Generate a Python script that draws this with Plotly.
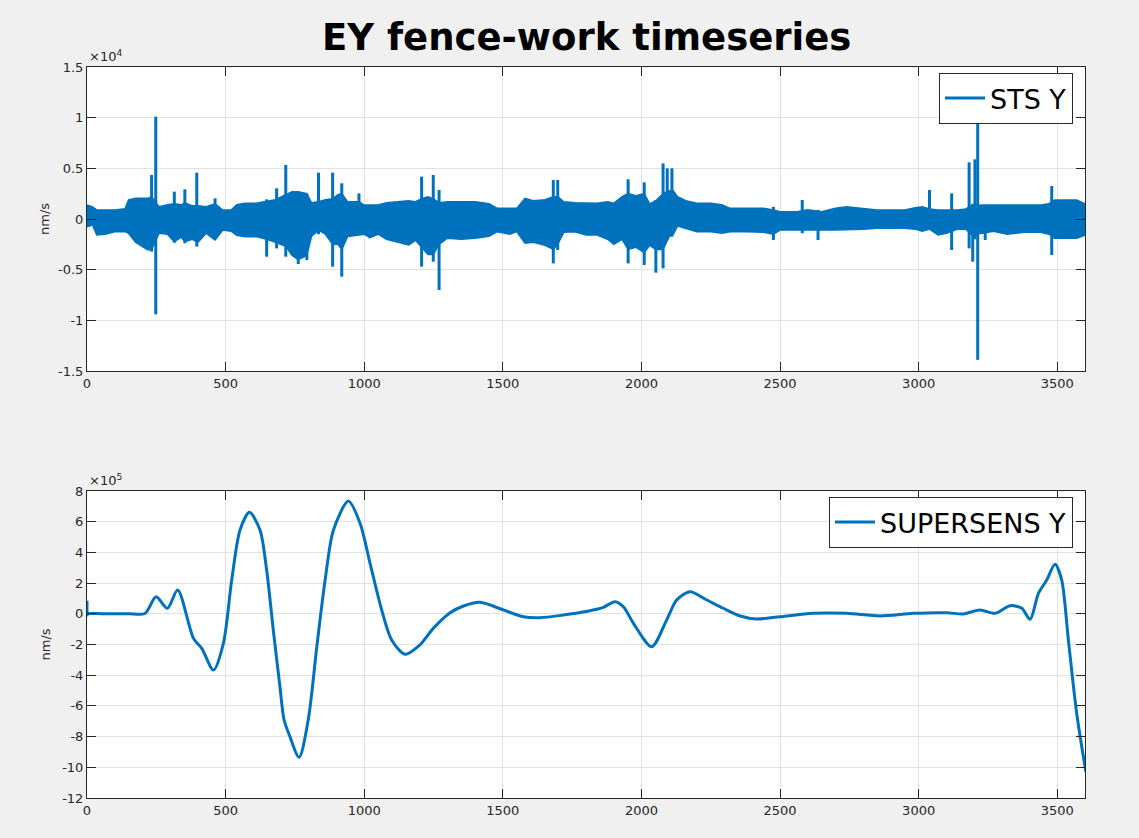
import plotly.graph_objects as go

W, H = 1139, 838

sts_t = [0, 20, 35, 65, 100, 137, 150, 175, 200, 220, 233, 260, 290, 315, 340, 353,
         380, 400, 430, 462, 490, 520, 540, 570, 610, 648, 680, 717, 740, 762, 793,
         810, 835, 860, 886, 905, 919, 940, 981, 1000, 1020, 1050, 1080, 1120, 1160,
         1185, 1207, 1230, 1249, 1270, 1300, 1350, 1400, 1450, 1480, 1526, 1550, 1580,
         1610, 1652, 1682, 1698, 1720, 1760, 1800, 1840, 1878, 1900, 1930, 1952, 1980,
         2010, 2030, 2052, 2078, 2100, 2115, 2130, 2160, 2200, 2250, 2290, 2320, 2380,
         2440, 2476, 2500, 2560, 2600, 2650, 2700, 2740, 2800, 2850, 2900, 2950, 2987,
         3013, 3039, 3070, 3100, 3140, 3170, 3190, 3230, 3270, 3320, 3380, 3440, 3470,
         3490, 3530, 3570, 3600]
sts_hi = [1380, 1200, 900, 900, 900, 1000, 1880, 2040, 2040, 2040, 2200, 1220, 1400, 1500,
          1400, 1600, 1300, 1300, 1220, 1500, 890, 890, 1400, 1550, 1550, 1700, 1900,
          2400, 2700, 2700, 2500, 1600, 1700, 1900, 2000, 2400, 2500, 1710, 1710, 1380,
          1380, 1380, 1600, 1700, 1800, 1700, 2000, 2200, 2000, 1600, 1710, 1710, 1710,
          1500, 1050, 1050, 1050, 2040, 1800, 1900, 2200, 2200, 1700, 1600, 1550, 1550,
          1700, 1550, 2200, 2500, 2300, 2500, 1500, 1800, 2500, 2800, 2800, 2200, 1800,
          1550, 1550, 1400, 1050, 1050, 1050, 900, 720, 720, 900, 720, 1050, 1200, 1050,
          890, 890, 890, 1100, 1200, 1000, 890, 890, 890, 1000, 1300, 1380, 1380, 1380,
          1380, 1380, 1500, 1880, 1880, 1880, 1500]
sts_lo = [-760, -600, -1580, -1500, -1250, -1250, -1400, -2300, -2730, -3060, -3000, -1410,
          -1500, -2240, -1800, -2240, -2000, -2300, -1410, -2070, -1090, -1200, -1600,
          -1740, -1740, -2000, -2300, -2700, -3600, -4000, -3600, -1700, -1100, -1500,
          -2500, -2500, -3000, -1740, -1600, -1500, -1840, -1500, -2000, -2300, -2570,
          -2100, -2800, -3500, -3500, -2500, -1900, -2000, -1900, -1700, -1250, -1500,
          -1250, -2400, -2300, -2600, -3000, -2500, -1300, -1250, -1580, -1580, -2000,
          -2500, -2000, -3000, -2800, -3300, -2600, -3000, -3000, -1740, -1500, -700,
          -900, -1250, -1250, -1400, -1250, -1250, -1300, -1500, -1090, -1090, -1090,
          -1090, -1090, -1090, -1000, -920, -920, -920, -1000, -1200, -1000, -1580,
          -1400, -1000, -1000, -1500, -1400, -1200, -1500, -1300, -1300, -1500, -1910,
          -1910, -1910, -1600]

# STS Y: isolated spikes (time s, top nm/s, bottom nm/s)
spike_t = [233, 248, 315, 353, 396, 462, 648, 684, 717, 762, 793, 835, 886, 919, 981,
           1207, 1249, 1270, 1682, 1698, 1952, 2010, 2052, 2078, 2093, 2110, 2476, 2580,
           2637, 3039, 3119, 3182, 3195, 3203, 3213, 3240, 3480]
spike_hi = [4340, 10100, 2700, 2930, 4570, 2040, 1940, 3030, 5330, 2700, 2500, 4570, 4570,
            3520, 2530, 4180, 4340, 2860, 3850, 3850, 3920, 3620, 1880, 5490, 5000, 5000,
            1200, 1880, 900, 2860, 2530, 5590, 1500, 5890, 10200, 1380, 3260]
spike_lo = [-3220, -9410, -2340, -2400, -2730, -2000, -3720, -2900, -3720, -4440, -4050,
            -1500, -4700, -5690, -1600, -4700, -4210, -7010, -4380, -3060, -4380, -4540,
            -5300, -4870, -2000, -1740, -2070, -1400, -2070, -1000, -3060, -2900, -4210,
            -2000, -13900, -2070, -3550]

# SUPERSENS Y (time s, nm/s)
ss_t = [0, 1, 3, 60, 150, 209, 249, 290, 327, 384, 414, 456, 492, 522, 552, 586, 624, 648,
        672, 696, 711, 732, 765, 798, 829, 859, 889, 943, 985, 1021, 1063, 1099, 1147, 1201,
        1249, 1310, 1358, 1418, 1502, 1574, 1634, 1718, 1800, 1860, 1905, 1935, 1971, 2037,
        2091, 2127, 2175, 2236, 2295, 2356, 2416, 2500, 2620, 2740, 2861, 2981, 3101, 3161,
        3221, 3275, 3330, 3372, 3402, 3432, 3462, 3492, 3516, 3540, 3570, 3603]
ss_y = [85000, -8000, 0, 0, 0, 2000, 111000, 36000, 155000, -160000, -225000, -366000,
        -192000, 220000, 546000, 661000, 546000, 285000, -106000, -475000, -692000, -800000,
        -935000, -692000, -214000, 220000, 546000, 735000, 590000, 329000, 25000, -171000,
        -264000, -203000, -95000, 7000, 51000, 75000, 25000, -19000, -25000, -8000, 15000,
        40000, 79000, 46000, -62000, -214000, -40000, 90000, 144000, 90000, 36000, -14000,
        -34000, -19000, 3000, 3000, -14000, 3000, 7000, -1000, 25000, 3000, 53000, 36000,
        -36000, 133000, 220000, 322000, 220000, -171000, -648000, -1029000]

x_ticks = [0, 500, 1000, 1500, 2000, 2500, 3000, 3500]
sts_ticks = [-15000, -10000, -5000, 0, 5000, 10000, 15000]
sts_labels = ["-1.5", "-1", "-0.5", "0", "0.5", "1", "1.5"]
ss_ticks = [-1200000, -1000000, -800000, -600000, -400000, -200000, 0, 200000, 400000,
            600000, 800000]
ss_labels = ["-12", "-10", "-8", "-6", "-4", "-2", "0", "2", "4", "6", "8"]

blue = "rgb(0,114,189)"
ink = "#262626"
font = "DejaVu Sans"

fig = go.Figure()

# the dense noise band
fig.add_trace(go.Scatter(x=sts_t + sts_t[::-1], y=sts_hi + sts_lo[::-1], fill="toself",
                         fillcolor=blue, line=dict(color=blue, width=1.5), mode="lines",
                         showlegend=False, hoverinfo="skip", xaxis="x", yaxis="y"))

# isolated spikes as vertical strokes
sx, sy = [], []
for t, hi, lo in zip(spike_t, spike_hi, spike_lo):
    sx += [t, t, None]
    sy += [lo, hi, None]
fig.add_trace(go.Scatter(x=sx, y=sy, mode="lines", line=dict(color=blue, width=3),
                         name="STS Y", legend="legend", xaxis="x", yaxis="y"))

fig.add_trace(go.Scatter(x=ss_t, y=ss_y, mode="lines",
                         line=dict(color=blue, width=3, shape="spline", smoothing=0.8),
                         name="SUPERSENS Y", legend="legend2", xaxis="x2", yaxis="y2"))

x0, x1 = 87 / W, 1085 / W
top_dom = [1 - 371 / H, 1 - 67 / H]
bot_dom = [1 - 798 / H, 1 - 491 / H]

axis_common = dict(showline=True, linecolor=ink, linewidth=1, mirror="ticks",
                   ticks="inside", ticklen=9, tickcolor=ink, showgrid=True,
                   gridcolor="#e1e1e1", zeroline=False, automargin=False,
                   tickfont=dict(family=font, size=13, color=ink))

legend_common = dict(xanchor="right", yanchor="top", bgcolor="white", bordercolor=ink,
                     borderwidth=1, font=dict(family=font, size=27, color="black"),
                     itemwidth=40, tracegroupgap=0)

fig.update_layout(
    width=W, height=H,
    paper_bgcolor="#f0f0f0", plot_bgcolor="white",
    margin=dict(l=0, r=0, t=0, b=0),
    xaxis=dict(domain=[x0, x1], range=[0, 3600], tickvals=x_ticks, anchor="y",
               **axis_common),
    yaxis=dict(domain=top_dom, range=[-15000, 15000], tickvals=sts_ticks,
               ticktext=sts_labels, anchor="x", **axis_common),
    xaxis2=dict(domain=[x0, x1], range=[0, 3600], tickvals=x_ticks, anchor="y2",
                **axis_common),
    yaxis2=dict(domain=bot_dom, range=[-1200000, 800000], tickvals=ss_ticks,
                ticktext=ss_labels, anchor="x2", **axis_common),
    legend=dict(x=1073 / W, y=1 - 73 / H, **legend_common),
    legend2=dict(x=1073 / W, y=1 - 497 / H, **legend_common),
    showlegend=True,
)

fig.add_annotation(text="<b>EY fence-work timeseries</b>", x=(x0 + x1) / 2, y=1 - 38 / H,
                   xref="paper", yref="paper", xanchor="center", yanchor="middle",
                   showarrow=False, font=dict(family=font, size=37, color="black"))

for dom in (top_dom, bot_dom):
    fig.add_annotation(text="nm/s", x=45 / W, y=(dom[0] + dom[1]) / 2, xref="paper",
                       yref="paper", xanchor="center", yanchor="middle", textangle=-90,
                       showarrow=False, font=dict(family=font, size=13, color=ink))

for exp, dom in (("4", top_dom), ("5", bot_dom)):
    fig.add_annotation(text="\u00d710<sup>" + exp + "</sup>", x=x0, y=dom[1] + 1 / H,
                       xref="paper", yref="paper", xanchor="left", yanchor="bottom",
                       showarrow=False, font=dict(family=font, size=13, color=ink))

fig.write_html("out.html", post_script="document.body.style.margin='0';",
               config={"displayModeBar": False})
